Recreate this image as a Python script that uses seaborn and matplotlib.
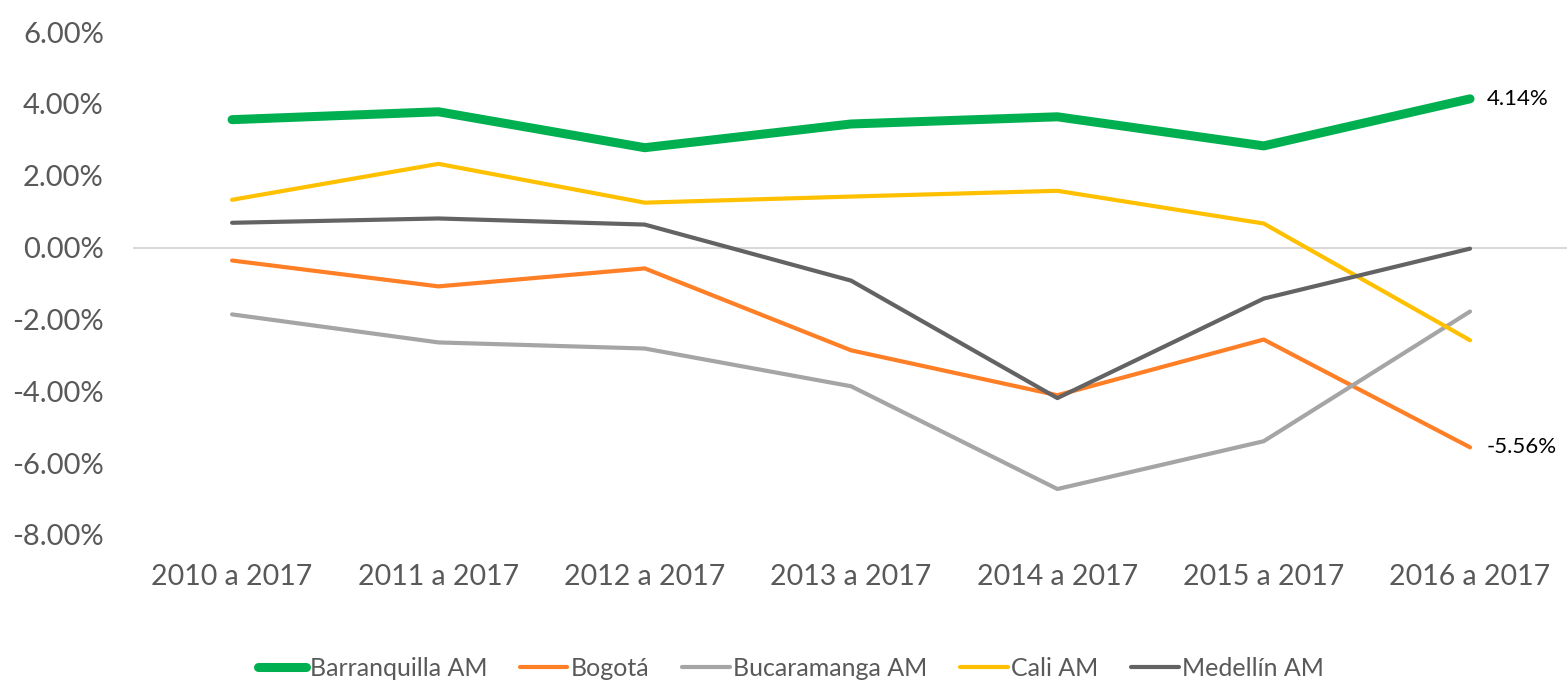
import matplotlib
matplotlib.use("Agg")
import matplotlib.pyplot as plt
import seaborn as sns
import pandas as pd
from matplotlib.ticker import FuncFormatter

periods = ["2010 a 2017", "2011 a 2017", "2012 a 2017", "2013 a 2017",
           "2014 a 2017", "2015 a 2017", "2016 a 2017"]
barranquilla = [3.56, 3.78, 2.78, 3.44, 3.64, 2.83, 4.14]
bogota = [-0.36, -1.08, -0.58, -2.86, -4.11, -2.56, -5.56]
bucaramanga = [-1.86, -2.64, -2.81, -3.86, -6.72, -5.39, -1.78]
cali = [1.33, 2.33, 1.25, 1.42, 1.58, 0.67, -2.58]
medellin = [0.69, 0.81, 0.64, -0.92, -4.19, -1.42, -0.03]

series_names = ["Barranquilla AM", "Bogotá", "Bucaramanga AM", "Cali AM", "Medellín AM"]
series_values = [barranquilla, bogota, bucaramanga, cali, medellin]
colors = ["#00B050", "#FF7F27", "#A5A5A5", "#FFC000", "#636363"]
widths = [6.5, 3.0, 3.0, 3.0, 3.0]

rows = []
for name, vals in zip(series_names, series_values):
    for i, (p, v) in enumerate(zip(periods, vals)):
        rows.append({"period": p, "idx": i, "serie": name, "value": v})
df = pd.DataFrame(rows)

sns.set_style("white")
plt.rcParams['font.family'] = ['Lato', 'DejaVu Sans']

fig = plt.figure(figsize=(15.67, 6.81), dpi=100)
ax = fig.add_axes([0.0849, 0.2144, 0.9151, 0.7386])

ax.axhline(0, color="#D9D9D9", lw=1.5, zorder=1)

for name, c, w in zip(series_names, colors, widths):
    sub = df[df["serie"] == name]
    sns.lineplot(data=sub, x="idx", y="value", color=c, linewidth=w, ax=ax,
                 label=name, solid_capstyle="round", solid_joinstyle="round",
                 zorder=3 if name == "Barranquilla AM" else 2, legend=False)

ax.set_xlim(-0.48, 6.47)
ax.set_ylim(-8, 6)
ax.set_yticks([-8, -6, -4, -2, 0, 2, 4, 6])
ax.yaxis.set_major_formatter(FuncFormatter(lambda v, p: f"{v:.2f}%"))
ax.set_xticks(range(len(periods)))
ax.set_xticklabels(periods)
ax.tick_params(axis="both", colors="#595959", length=0)
ax.tick_params(axis="x", pad=21, labelsize=20.5)
ax.tick_params(axis="y", pad=21, labelsize=21)
ax.set_xlabel("")
ax.set_ylabel("")
for s in ax.spines.values():
    s.set_visible(False)

ax.annotate(f"{barranquilla[-1]:.2f}%", (6, barranquilla[-1]), xytext=(12, 0),
            textcoords="offset points", va="center", ha="left", fontsize=16, color="black")
ax.annotate(f"{bogota[-1]:.2f}%", (6, bogota[-1]), xytext=(12, 0),
            textcoords="offset points", va="center", ha="left", fontsize=16, color="black")

handles = ax.get_lines()[1:]
leg = fig.legend(handles, series_names, loc="center", bbox_to_anchor=(0.505, 13 / 681),
                 ncol=5, frameon=False, fontsize=18, handlelength=1.9,
                 handletextpad=0.15, columnspacing=1.3, borderaxespad=0, borderpad=0)
for t in leg.get_texts():
    t.set_color("#595959")
for h in leg.get_lines():
    h.set_solid_capstyle("round")

fig.savefig("out.png", dpi=100)
